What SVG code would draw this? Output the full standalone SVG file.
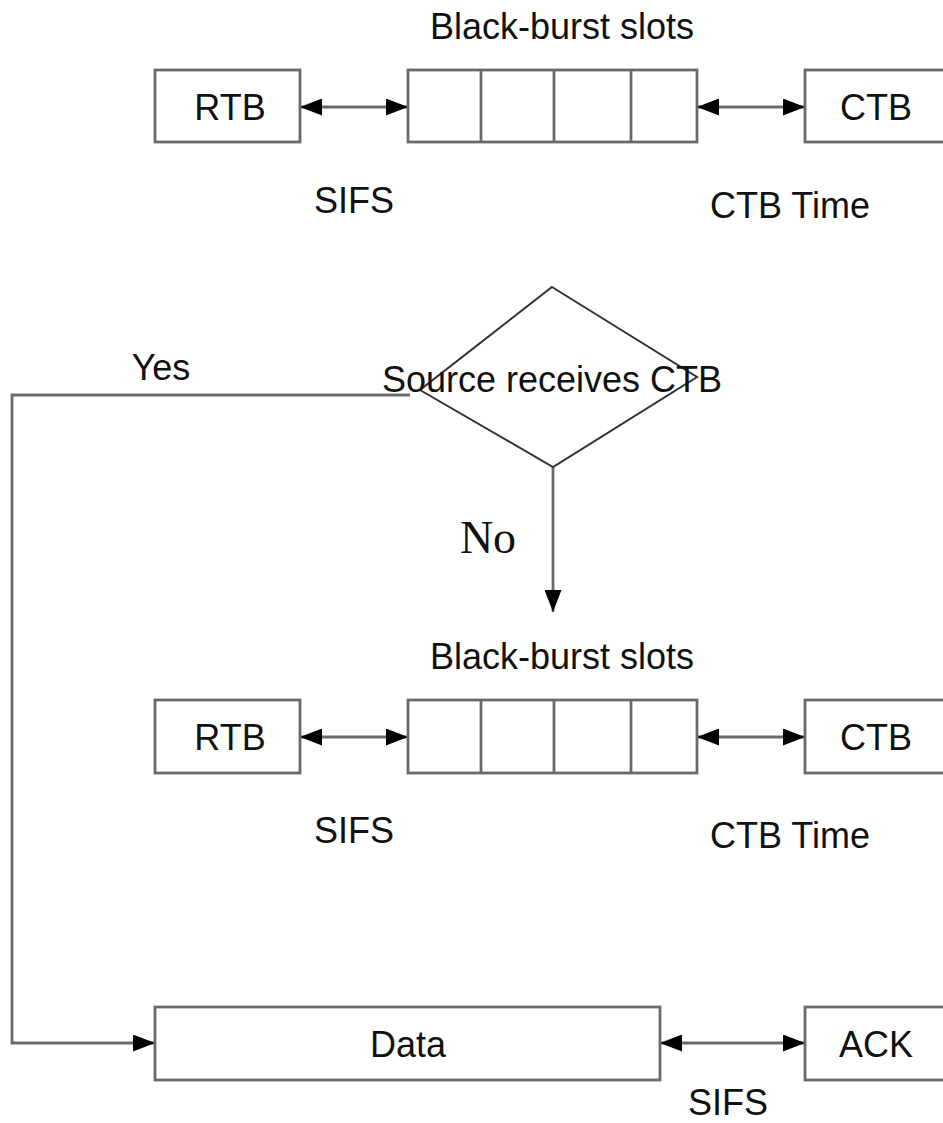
<svg xmlns="http://www.w3.org/2000/svg" width="943" height="1123" viewBox="0 0 943 1123">
<style>
.box{fill:#fff;stroke:#6a6a6a;stroke-width:2.8}
.ln{fill:none;stroke:#6a6a6a;stroke-width:2.8}
.t{font-family:"Liberation Sans",Arial,sans-serif;font-size:36px;fill:#111;text-anchor:middle}
.s{font-family:"Liberation Serif","Times New Roman",serif;font-size:46px;fill:#111;text-anchor:middle}
</style>
<defs>
<marker id="ah" viewBox="0 0 22 17" refX="22" refY="8.5" markerWidth="22" markerHeight="17" markerUnits="userSpaceOnUse" orient="auto-start-reverse">
<path d="M0,0 L22,8.5 L0,17 Z" fill="#000"/>
</marker>
</defs>
<rect width="943" height="1123" fill="#fff"/>
<g id="connectors">
<line class="ln" x1="300" y1="107" x2="408" y2="107" marker-start="url(#ah)" marker-end="url(#ah)"/>
<line class="ln" x1="697" y1="107" x2="805" y2="107" marker-start="url(#ah)" marker-end="url(#ah)"/>
<line class="ln" x1="300" y1="737" x2="408" y2="737" marker-start="url(#ah)" marker-end="url(#ah)"/>
<line class="ln" x1="697" y1="737" x2="805" y2="737" marker-start="url(#ah)" marker-end="url(#ah)"/>
<line class="ln" x1="660" y1="1043" x2="805" y2="1043" marker-start="url(#ah)" marker-end="url(#ah)"/>
<polyline class="ln" points="410,395 12,395 12,1043 155,1043" marker-end="url(#ah)"/>
<line class="ln" x1="553" y1="467" x2="553" y2="612" marker-end="url(#ah)"/>
</g>
<g id="label-top">
<text class="t" x="562" y="39">Black-burst slots</text>
<text class="t" x="354" y="213">SIFS</text>
<text class="t" x="790" y="218">CTB Time</text>
</g>
<g id="rtb1"><rect class="box" x="155" y="70" width="145" height="72"/><text class="t" x="230" y="120">RTB</text></g>
<g id="slots1">
<rect class="box" x="408" y="70" width="289" height="72"/>
<line class="ln" x1="481" y1="70" x2="481" y2="142"/>
<line class="ln" x1="554" y1="70" x2="554" y2="142"/>
<line class="ln" x1="631" y1="70" x2="631" y2="142"/>
</g>
<g id="ctb1"><rect class="box" x="805" y="70" width="160" height="72"/><text class="t" x="876" y="120">CTB</text></g>
<g id="decision">
<polygon points="552,287 697,377 553,467 420,390" fill="none" stroke="#333" stroke-width="2"/>
<text class="t" x="552" y="392">Source receives CTB</text>
</g>
<text class="t" x="161" y="380">Yes</text>
<text class="s" x="488" y="553">No</text>
<g id="label-mid">
<text class="t" x="562" y="669">Black-burst slots</text>
<text class="t" x="354" y="843">SIFS</text>
<text class="t" x="790" y="848">CTB Time</text>
</g>
<g id="rtb2"><rect class="box" x="155" y="700" width="145" height="73"/><text class="t" x="230" y="750">RTB</text></g>
<g id="slots2">
<rect class="box" x="408" y="700" width="289" height="73"/>
<line class="ln" x1="481" y1="700" x2="481" y2="773"/>
<line class="ln" x1="554" y1="700" x2="554" y2="773"/>
<line class="ln" x1="631" y1="700" x2="631" y2="773"/>
</g>
<g id="ctb2"><rect class="box" x="805" y="700" width="160" height="73"/><text class="t" x="876" y="750">CTB</text></g>
<g id="data"><rect class="box" x="155" y="1007" width="505" height="73"/><text class="t" x="408" y="1057">Data</text></g>
<g id="ack"><rect class="box" x="805" y="1007" width="160" height="73"/><text class="t" x="876" y="1057">ACK</text></g>
<text class="t" x="728" y="1115">SIFS</text>
</svg>
